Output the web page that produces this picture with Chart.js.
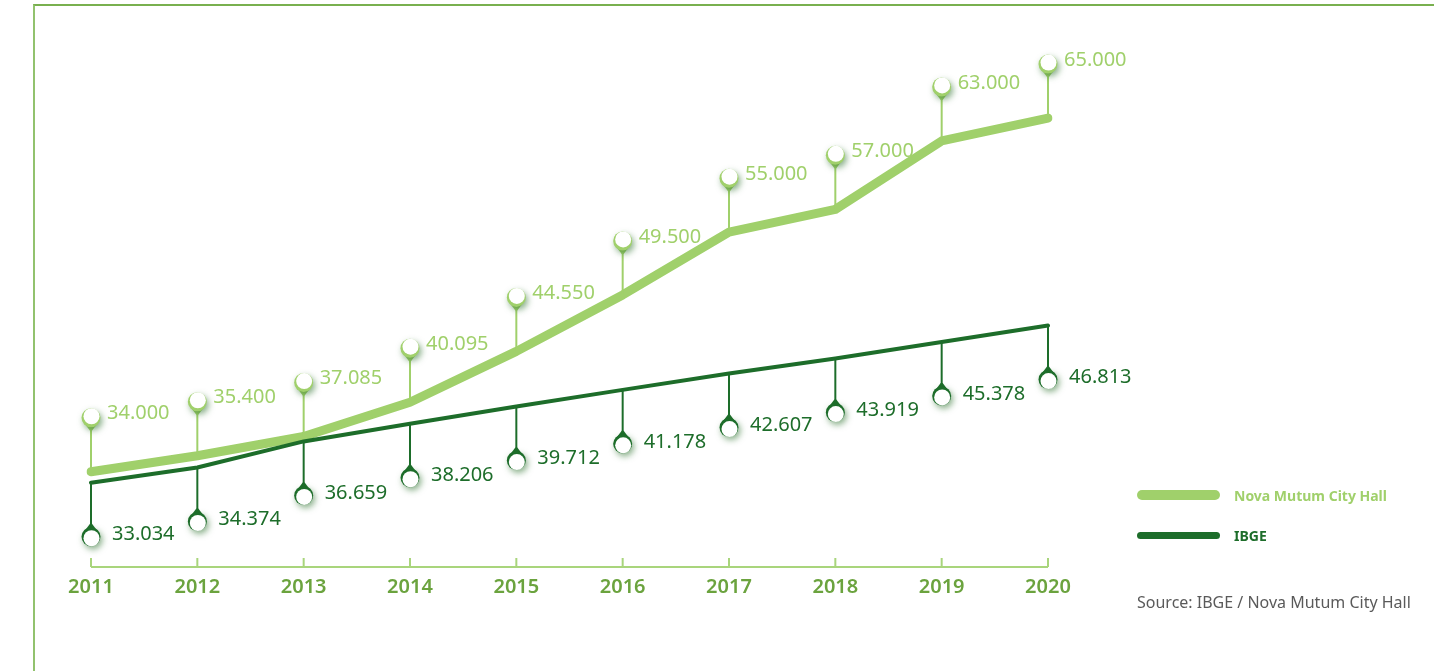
<!DOCTYPE html>
<html lang="en">
<head>
    <meta charset="UTF-8">
    <title>Population estimate - Nova Mutum</title>
    <script src="https://cdn.jsdelivr.net/npm/chart.js"></script>
    <style>
        body, html {
            margin: 0;
            padding: 0;
            width: 1434px;
            height: 671px;
            overflow: hidden;
            background: #fff;
            font-family: "Noto Sans", Arial, sans-serif;
        }
        #frame {
            position: absolute;
            left: 33px;
            top: 4px;
            right: 0;
            bottom: 0;
            border-left: 2px solid #92c26e;
            border-top: 2px solid #79b04f;
        }
        #wrap {
            position: absolute;
            left: 0;
            top: 0;
            width: 1434px;
            height: 671px;
        }
        .leg {
            position: absolute;
            left: 1137px;
            display: flex;
            align-items: center;
        }
        .leg .swatch {
            width: 83px;
            border-radius: 6px;
            margin-right: 14px;
        }
        .leg span {
            font-size: 14px;
            font-weight: bold;
        }
        #source {
            position: absolute;
            left: 1137px;
            top: 591px;
            font-size: 16px;
            color: #5a5a5a;
        }
    </style>
</head>
<body>
    <div id="frame"></div>
    <div id="wrap"><canvas id="chart" width="1434" height="671"></canvas></div>
    <div id="legend"></div>
    <div id="source">Source: IBGE / Nova Mutum City Hall</div>

    <script>
        // data
        const years = ['2011', '2012', '2013', '2014', '2015', '2016', '2017', '2018', '2019', '2020'];
        const cityHall = [34000, 35400, 37085, 40095, 44550, 49500, 55000, 57000, 63000, 65000];
        const ibge = [33034, 34374, 36659, 38206, 39712, 41178, 42607, 43919, 45378, 46813];
        const seriesNames = ['Nova Mutum City Hall', 'IBGE'];

        const lightGreen = '#a0d06b';
        const darkGreen = '#1d6d2a';

        // 34.000 style thousands separator
        function fmt(v) {
            return String(v).replace(/\B(?=(\d{3})+(?!\d))/g, '.');
        }

        // pin marker with stem, drawn above (light) or below (dark) each point
        function drawPin(ctx, x, y, dir, color) {
            const len = 54;
            const py = y + dir * len;
            ctx.save();
            ctx.strokeStyle = color;
            ctx.lineWidth = 2;
            ctx.beginPath();
            ctx.moveTo(x, y);
            ctx.lineTo(x, py - dir * 8);
            ctx.stroke();
            // small taper where the stem meets the head
            ctx.fillStyle = color;
            ctx.beginPath();
            ctx.moveTo(x - 1, py - dir * 13);
            ctx.lineTo(x + 1, py - dir * 13);
            ctx.lineTo(x + 7, py - dir * 5);
            ctx.lineTo(x - 7, py - dir * 5);
            ctx.closePath();
            ctx.fill();
            ctx.shadowColor = 'rgba(40, 110, 40, 0.55)';
            ctx.shadowBlur = 6;
            ctx.shadowOffsetX = 2;
            ctx.shadowOffsetY = 3;
            ctx.beginPath();
            ctx.arc(x, py, 9.5, 0, Math.PI * 2);
            ctx.fill();
            ctx.shadowColor = 'transparent';
            ctx.fillStyle = '#fff';
            ctx.beginPath();
            ctx.arc(x + 0.5, py + dir * 1.5, 8, 0, Math.PI * 2);
            ctx.fill();
            ctx.restore();
            return py;
        }

        const pinPlugin = {
            id: 'pins',
            beforeDatasetsDraw(chart) {
                // x axis line with ticks pointing up
                const ctx = chart.ctx;
                const xs = chart.scales.x;
                const area = chart.chartArea;
                ctx.save();
                ctx.strokeStyle = '#a9d57c';
                ctx.lineWidth = 2;
                ctx.beginPath();
                ctx.moveTo(area.left, area.bottom);
                ctx.lineTo(area.right, area.bottom);
                xs.ticks.forEach((t, i) => {
                    const px = xs.getPixelForTick(i);
                    ctx.moveTo(px, area.bottom);
                    ctx.lineTo(px, area.bottom - 9);
                });
                ctx.stroke();
                ctx.restore();
            },
            afterDatasetsDraw(chart) {
                const ctx = chart.ctx;
                chart.data.datasets.forEach((ds, di) => {
                    const meta = chart.getDatasetMeta(di);
                    const dir = di === 0 ? -1 : 1;
                    meta.data.forEach((pt, i) => {
                        const py = drawPin(ctx, pt.x, pt.y, dir, ds.borderColor);
                        ctx.save();
                        ctx.fillStyle = ds.borderColor;
                        ctx.font = '20px "Noto Sans"';
                        ctx.textBaseline = 'middle';
                        ctx.textAlign = 'left';
                        ctx.fillText(fmt(ds.data[i]), pt.x + (di === 0 ? 16 : 21), py + (di === 0 ? -4 : -2));
                        ctx.restore();
                    });
                });
            }
        };

        new Chart(document.getElementById('chart'), {
            type: 'line',
            data: {
                labels: years,
                datasets: [{
                    label: seriesNames[0],
                    data: cityHall,
                    borderColor: lightGreen,
                    borderWidth: 9,
                    borderCapStyle: 'round',
                    borderJoinStyle: 'round',
                    pointRadius: 0,
                    tension: 0,
                    order: 1
                }, {
                    label: seriesNames[1],
                    data: ibge,
                    borderColor: darkGreen,
                    borderWidth: 4,
                    borderCapStyle: 'round',
                    borderJoinStyle: 'round',
                    pointRadius: 0,
                    tension: 0,
                    order: 0
                }]
            },
            options: {
                responsive: false,
                animation: false,
                layout: {
                    padding: { left: 91, right: 386, top: 20, bottom: 64 }
                },
                plugins: {
                    legend: { display: false },
                    tooltip: { enabled: false }
                },
                scales: {
                    x: {
                        offset: false,
                        grid: { display: false, drawTicks: false },
                        border: { display: false },
                        ticks: {
                            padding: 8,
                            color: '#6ba33e',
                            font: { family: 'Noto Sans', size: 20, weight: '600' },
                            maxRotation: 0,
                            autoSkip: false
                        }
                    },
                    y: {
                        display: false,
                        min: 25650,
                        max: 73600
                    }
                }
            },
            plugins: [pinPlugin]
        });

        // legend built from the series names
        const legend = document.getElementById('legend');
        const legendStyle = [
            { color: lightGreen, h: 10, top: 490 },
            { color: darkGreen, h: 7, top: 530 }
        ];
        seriesNames.forEach((name, i) => {
            const row = document.createElement('div');
            row.className = 'leg';
            row.style.top = (legendStyle[i].top - 6) + 'px';
            row.style.height = '22px';
            const sw = document.createElement('div');
            sw.className = 'swatch';
            sw.style.height = legendStyle[i].h + 'px';
            sw.style.background = legendStyle[i].color;
            const txt = document.createElement('span');
            txt.textContent = name;
            txt.style.color = legendStyle[i].color;
            row.appendChild(sw);
            row.appendChild(txt);
            legend.appendChild(row);
        });
    </script>
</body>
</html>
